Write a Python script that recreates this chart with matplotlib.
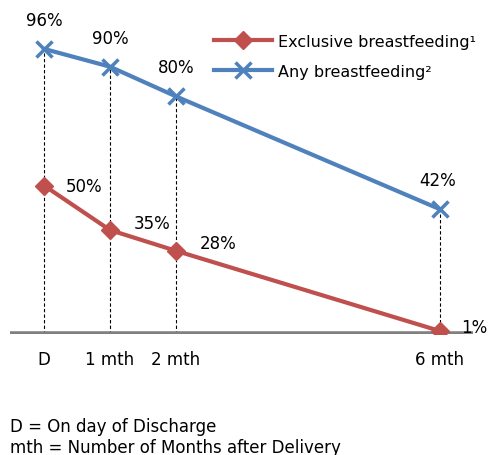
import matplotlib.pyplot as plt

# data
months = [0, 1, 2, 6]
tick_labels = ["D", "1 mth", "2 mth", "6 mth"]
exclusive = [50, 35, 28, 1]
any_bf = [96, 90, 80, 42]

red = "#C0504D"
blue = "#4F81BD"

fig = plt.figure(figsize=(4.93, 4.56), dpi=100)
ax = fig.add_axes([10 / 493, 121 / 456, 463 / 493, 297 / 456])
ax.set_xlim(-0.515, 6.5)
ax.set_ylim(0, 100)
ax.axis("off")

# drop lines
for m, a in zip(months, any_bf):
    ax.plot([m, m], [0, a], color="black", lw=0.8, ls=(0, (3, 2)), zorder=1)

# baseline
ax.axhline(0, color="#808080", lw=4, zorder=2)

ax.plot(months, exclusive, color=red, lw=3, marker="D", ms=9, zorder=3,
        label="Exclusive breastfeeding\u00b9")
ax.plot(months, any_bf, color=blue, lw=3, marker="x", ms=12, mew=2.5, zorder=3,
        label="Any breastfeeding\u00b2")

fs = 12
# value labels
for m, v in zip(months, any_bf):
    ax.annotate(f"{v}%", (m, v), xytext=(-2 if m == 6 else 0, 21), textcoords="offset points",
                ha="center", va="center", fontsize=fs)
ex_offsets = [(29, 0), (30, 5), (30, 6), (25, 3)]
for m, v, off in zip(months, exclusive, ex_offsets):
    ax.annotate(f"{v}%", (m, v), xytext=off, textcoords="offset points",
                ha="center", va="center", fontsize=fs)

# x tick labels
for m, t in zip(months, tick_labels):
    ax.annotate(t, (m, 0), xytext=(0, -18), textcoords="offset points",
                ha="center", va="center", fontsize=fs)

ax.legend(loc="upper left", bbox_to_anchor=(0.41, 1.06), frameon=False,
          fontsize=11.5, handlelength=3.6, handletextpad=0.4, labelspacing=0.95)

fig.text(10 / 493, 1 - 427 / 456, "D = On day of Discharge", fontsize=fs, va="center")
fig.text(10 / 493, 1 - 448 / 456, "mth = Number of Months after Delivery", fontsize=fs, va="center")

fig.savefig("out.png", dpi=100)
